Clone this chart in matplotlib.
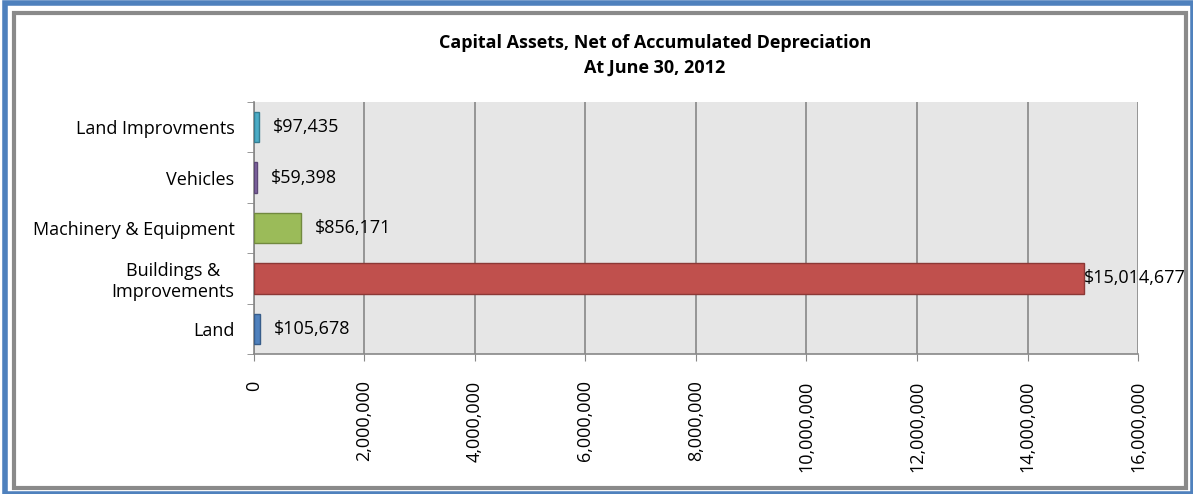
import matplotlib.pyplot as plt
from matplotlib.patches import Rectangle
from matplotlib.ticker import FuncFormatter

categories = ['Land', 'Buildings &\nImprovements', 'Machinery & Equipment', 'Vehicles', 'Land Improvments']
values = [105678, 15014677, 856171, 59398, 97435]
labels = ['$105,678', '$15,014,677', '$856,171', '$59,398', '$97,435']
colors = ['#4f81bd', '#c0504d', '#9bbb59', '#8064a2', '#4bacc6']
edges = ['#385d8a', '#8c3836', '#71893f', '#5c4776', '#357d91']

plt.rcParams['font.family'] = ['Open Sans', 'DejaVu Sans']

fig = plt.figure(figsize=(11.93, 4.94), dpi=100)

# outer frame: blue edge and gray inner border
fig.patches.append(Rectangle((0.004, 0.0), 0.996, 0.993, transform=fig.transFigure,
                             fill=False, edgecolor='#4f81bd', linewidth=4))
fig.patches.append(Rectangle((0.012, 0.012), 0.982, 0.962, transform=fig.transFigure,
                             fill=False, edgecolor='#8a8a8a', linewidth=3))

ax = fig.add_axes([0.2129, 0.2834, 0.7410, 0.5101])
ax.set_facecolor('#e6e6e6')

y = range(len(categories))
ax.barh(y, values, height=0.6, color=colors, edgecolor=edges, linewidth=1, zorder=3)

for i, (v, lab) in enumerate(zip(values, labels)):
    off = 0 if v > 10_000_000 else 10
    ax.annotate(lab, (v, i), xytext=(off, 0), textcoords='offset points',
                va='center', ha='left', fontsize=13, color='black', zorder=4)

ax.set_xlim(0, 16_000_000)
ax.set_ylim(-0.5, len(categories) - 0.5)
ax.set_xticks(range(0, 16_000_001, 2_000_000))
ax.xaxis.set_major_formatter(FuncFormatter(lambda x, p: f'{int(x):,}'))
ax.tick_params(axis='x', labelrotation=90, labelsize=13, length=5, color='#888888', pad=14)
ax.set_yticks(list(y))
ax.set_yticklabels(categories, fontsize=13)
ax.set_yticks([i - 0.5 for i in range(len(categories) + 1)], minor=True)
ax.tick_params(axis='y', which='major', length=0, pad=14)
ax.tick_params(axis='y', which='minor', length=5, color='#888888')
for lab in ax.get_yticklabels():
    lab.set_multialignment('center')

ax.grid(axis='x', color='#888888', linewidth=1.2, zorder=1)
for s in ['top', 'right']:
    ax.spines[s].set_visible(False)
for s in ['left', 'bottom']:
    ax.spines[s].set_color('#888888')
    ax.spines[s].set_linewidth(1.2)

fig.text(0.549, 0.888, 'Capital Assets, Net of Accumulated Depreciation\nAt June 30, 2012',
         ha='center', va='center', fontsize=13, fontweight='bold', linespacing=1.45)

fig.savefig('out.png', dpi=100)
